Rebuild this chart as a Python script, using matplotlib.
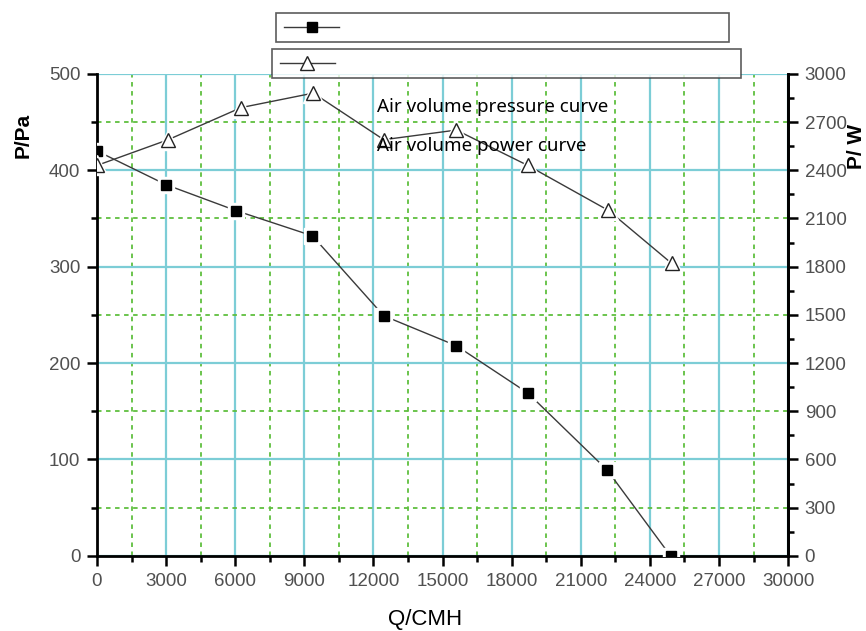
import matplotlib

matplotlib.use("Agg")
import matplotlib.pyplot as plt
from matplotlib.lines import Line2D
from matplotlib.ticker import MultipleLocator

# Air volume (CMH) and measured pressure / power
flow_pressure = [0, 3000, 6050, 9350, 12450, 15600, 18700, 22150, 24900]
pressure_pa = [420, 385, 358, 332, 249, 218, 169, 89, 0]

flow_power = [0, 3090, 6260, 9390, 12450, 15600, 18700, 22200, 24950]
power_w = [2430, 2590, 2790, 2880, 2590, 2650, 2430, 2150, 1820]

label_pressure = "Air volume pressure curve"
label_power = "Air volume power curve"

TICK_FONT = ["Liberation Sans", "DejaVu Sans"]
LABEL_FONT = ["Liberation Sans", "DejaVu Sans"]
LINE_COLOR = "#3a3a3a"
MAJOR_GRID = "#7ccdd6"
MINOR_GRID = "#5fbf3f"

fig = plt.figure(figsize=(8.66, 6.31), dpi=100)
ax = fig.add_axes([0.112, 0.119, 0.798, 0.764])
ax2 = ax.twinx()

# pressure curve (left axis); white halo markers give the Origin-style gaps
ax.plot(flow_pressure, pressure_pa, color=LINE_COLOR, lw=1.0, zorder=3)
ax.plot(flow_pressure, pressure_pa, ls="none", marker="s", ms=11, mfc="white",
        mec="white", zorder=4)
ax.plot(flow_pressure, pressure_pa, ls="none", marker="s", ms=7, mfc="black",
        mec="black", zorder=5)

# power curve (right axis)
ax2.plot(flow_power, power_w, color=LINE_COLOR, lw=1.0, zorder=3)
ax2.plot(flow_power, power_w, ls="none", marker="^", ms=15, mfc="white",
         mec="white", zorder=4)
ax2.plot(flow_power, power_w, ls="none", marker="^", ms=10, mfc="white",
         mec="#222222", mew=1.0, zorder=5)

ax.set_xlim(0, 30000)
ax.set_ylim(0, 500)
ax2.set_ylim(0, 3000)

ax.xaxis.set_major_locator(MultipleLocator(3000))
ax.xaxis.set_minor_locator(MultipleLocator(1500))
ax.yaxis.set_major_locator(MultipleLocator(100))
ax.yaxis.set_minor_locator(MultipleLocator(50))
ax2.yaxis.set_major_locator(MultipleLocator(300))
ax2.yaxis.set_minor_locator(MultipleLocator(150))

ax.grid(True, which="major", color=MAJOR_GRID, lw=1.6, ls="-")
ax.grid(True, which="minor", color=MINOR_GRID, lw=1.3, ls=(0, (2.5, 2.5)))
ax.set_axisbelow(True)

for a in (ax, ax2):
    a.spines["top"].set_visible(False)
    for s in ("left", "right", "bottom"):
        a.spines[s].set_linewidth(2.0)
    a.tick_params(which="major", direction="out", length=7, width=1.8,
                  colors="black", labelcolor="#505050", labelsize=13.5, pad=5)
    a.tick_params(which="minor", direction="out", length=4, width=1.8,
                  colors="black")
    for lab in a.get_xticklabels() + a.get_yticklabels():
        lab.set_family(TICK_FONT)
ax2.spines["left"].set_visible(False)
ax2.spines["bottom"].set_visible(False)

ax.set_xlabel("Q/CMH", fontsize=16, family=LABEL_FONT)
ax.set_ylabel("P/Pa", fontsize=15, family=LABEL_FONT, fontweight="bold")
ax2.set_ylabel("P/ W", fontsize=15, family=LABEL_FONT, fontweight="bold")
ax.xaxis.set_label_coords(0.475, -0.110)
ax.yaxis.set_label_coords(-0.093, 0.873)
ax2.yaxis.set_label_coords(1.085, 0.849)

# curve names sit inside the plot, drawn above both curves
ax2.text(12150, 466 * 6, label_pressure, fontsize=13.5, family="Noto Sans",
         va="center", ha="left", zorder=6)
ax2.text(12150, 425 * 6, label_power, fontsize=13.5, family="Noto Sans",
         va="center", ha="left", zorder=6)

# two separate legend boxes at the top (Origin style, labels left blank)
h_p = Line2D([], [], color=LINE_COLOR, lw=1.0, marker="s", ms=7, mfc="black",
             mec="black")
h_w = Line2D([], [], color=LINE_COLOR, lw=1.0, marker="^", ms=10, mfc="white",
             mec="#222222")
for handle, (x0, y0, w, h) in [
    (h_p, (0.319, 0.932, 0.523, 0.049)),
    (h_w, (0.314, 0.873, 0.542, 0.053)),
]:
    leg = fig.legend([handle], [" "], loc="center left",
                     bbox_to_anchor=(x0, y0, w, h), mode="expand",
                     bbox_transform=fig.transFigure, frameon=True,
                     fancybox=False, handlelength=4.0, borderaxespad=0,
                     borderpad=0.55, fontsize=10)
    frame = leg.get_frame()
    frame.set_edgecolor("#333333")
    frame.set_linewidth(1.2)
    leg.set_zorder(10)

fig.savefig("out.png", dpi=100)
